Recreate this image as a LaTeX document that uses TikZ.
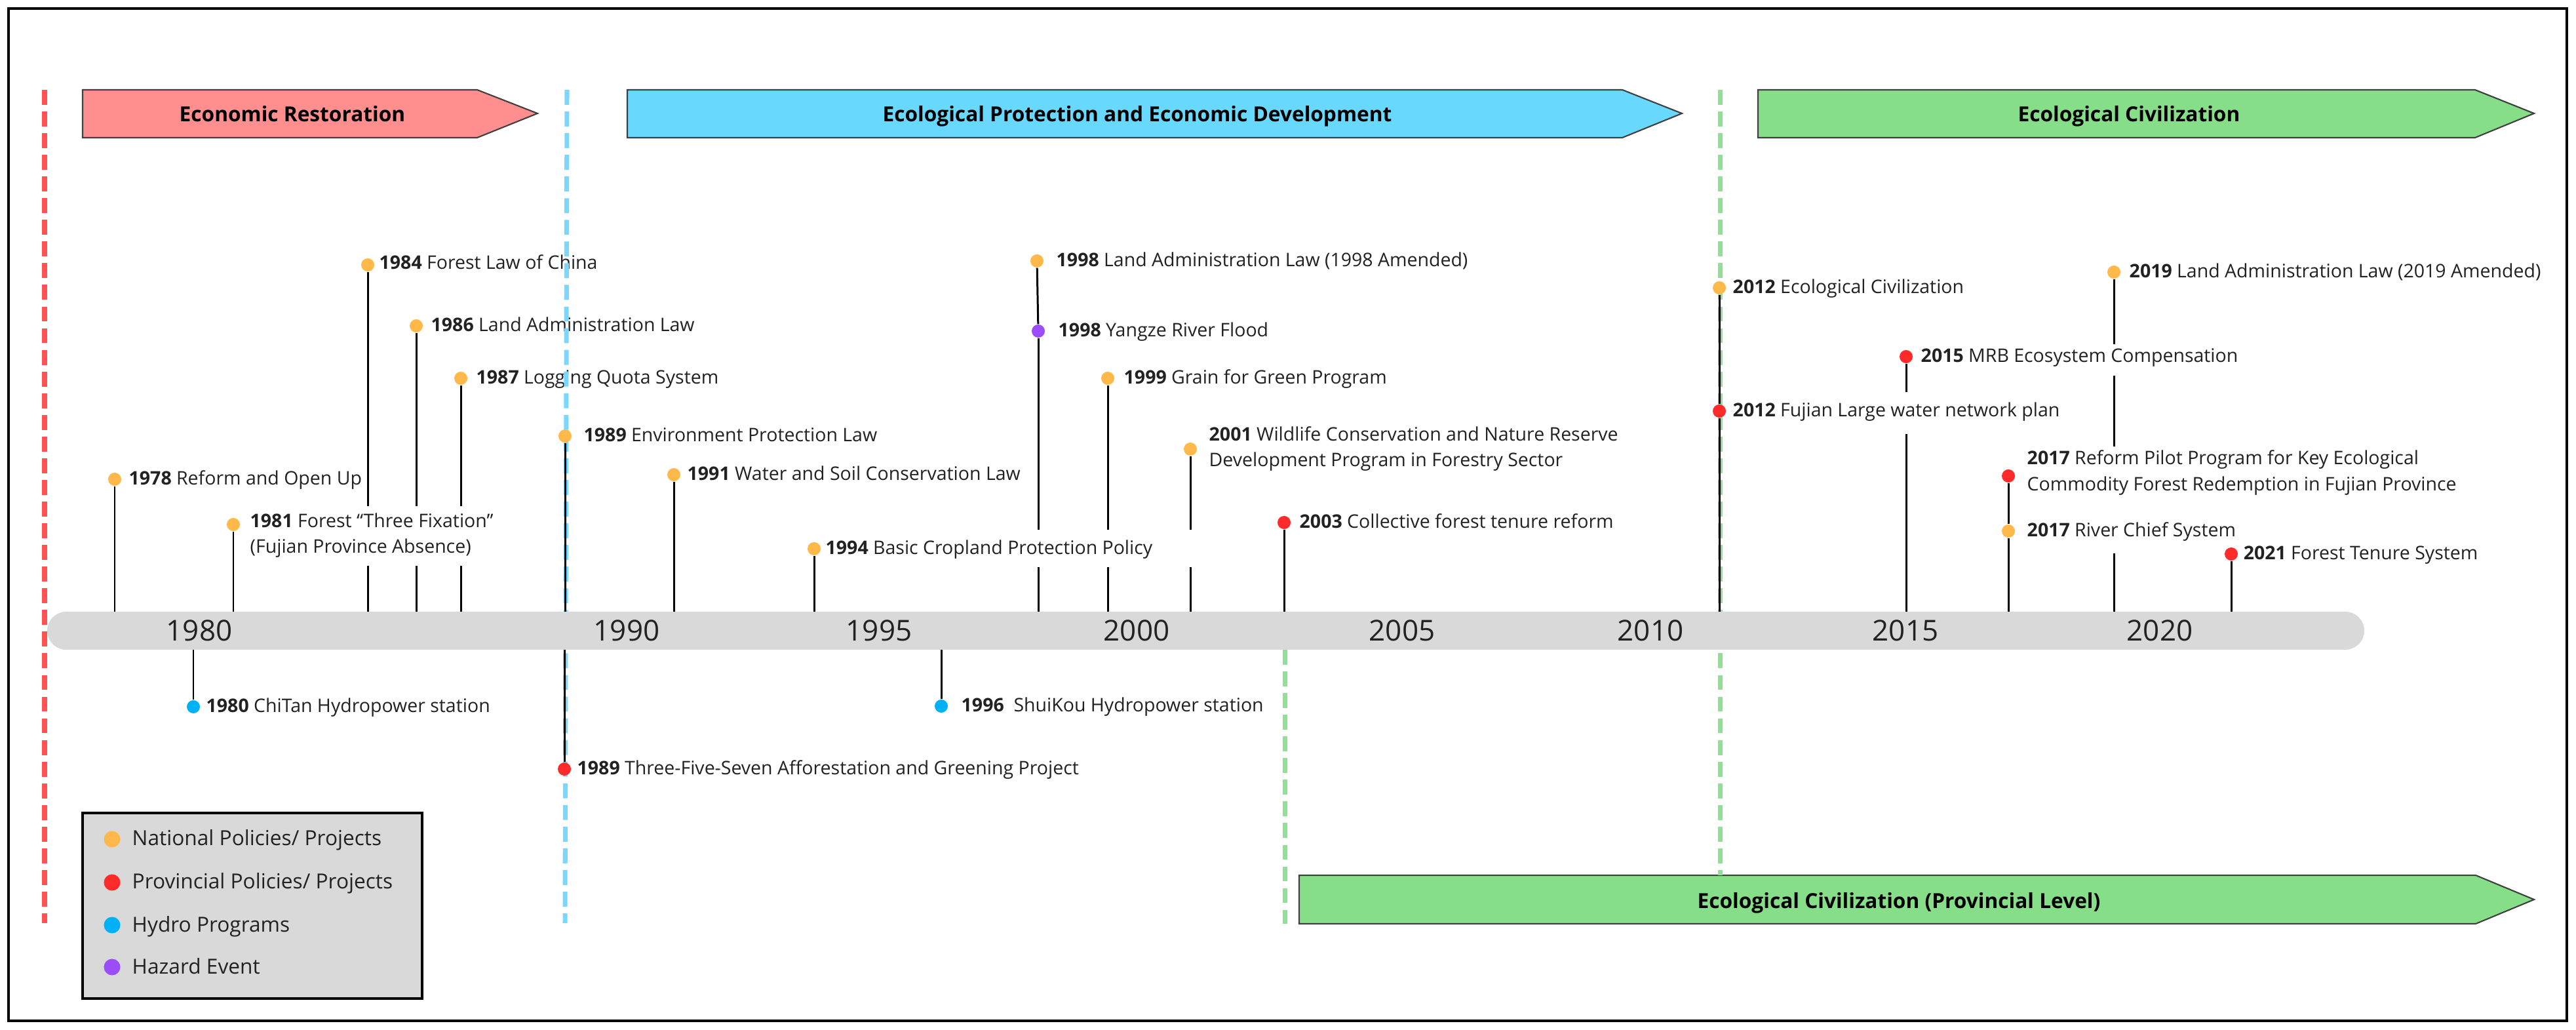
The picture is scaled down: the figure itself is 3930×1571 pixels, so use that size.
\documentclass[tikz,border=0pt]{standalone}
\usepackage{fontspec}
\setmainfont{Open Sans}
\definecolor{cOr}{HTML}{FFB94A}
\definecolor{cRd}{HTML}{FF2A2A}
\definecolor{cBl}{HTML}{00B2F5}
\definecolor{cPu}{HTML}{9B4DFA}
\definecolor{aRed}{HTML}{FF8F8F}
\definecolor{aBlue}{HTML}{69D8FD}
\definecolor{aGreen}{HTML}{87DE88}
\definecolor{dRed}{HTML}{FF5252}
\definecolor{dBlue}{HTML}{7AD8FF}
\definecolor{dGreen}{HTML}{90E095}
\definecolor{barC}{HTML}{D9D9D9}
\definecolor{txt}{HTML}{222222}
\newcommand{\evfont}{\fontsize{8.1pt}{9.7pt}\selectfont}
\newcommand{\lgfont}{\fontsize{9pt}{10.8pt}\selectfont}
\newcommand{\yrfont}{\fontsize{12.5pt}{15pt}\selectfont}
\newcommand{\phfont}{\fontsize{9pt}{10.8pt}\selectfont\bfseries}
\begin{document}
\begin{tikzpicture}[x=0.01cm,y=-0.01cm,
  dotn/.style={circle,fill=#1,inner sep=0pt,minimum size=0.2cm},
  legdot/.style={circle,fill=#1,inner sep=0pt,minimum size=0.25cm},
  ev/.style={anchor=base west,inner sep=0pt,text=txt,font=\evfont},
  lg/.style={anchor=base west,inner sep=0pt,text=txt,font=\lgfont},
  yr/.style={anchor=base,inner sep=0pt,text=txt,font=\yrfont},
  phtext/.style={anchor=base,inner sep=0pt,text=black,font=\phfont},
  stem/.style={line width=0.85pt,black},
  period/.style={draw=black!75,line width=0.6pt,fill=#1},
  sep/.style={line width=2pt,draw=#1,dash pattern=on 6.5pt off 2.9pt}]
\useasboundingbox (0,0) rectangle (3930,1571);
\fill[white] (0,0) rectangle (3930,1571);
\draw[line width=1.1pt] (13,13) rectangle (3916,1557);

% phase arrows
\draw[period=aRed] (126,137) -- (728,137) -- (820,173) -- (728,210) -- (126,210) -- cycle;
\node[phtext] (pEcon) at (446,186) {Economic Restoration};
\draw[period=aBlue] (957,137) -- (2475,137) -- (2566,173) -- (2475,210) -- (957,210) -- cycle;
\node[phtext] (pProt) at (1735,186) {Ecological Protection and Economic Development};
\draw[period=aGreen] (2682,137) -- (3776,137) -- (3866,173) -- (3776,210) -- (2682,210) -- cycle;
\node[phtext] (pCiv) at (3248,186) {Ecological Civilization};
\draw[period=aGreen] (1982,1335) -- (3777,1335) -- (3866,1372) -- (3777,1409) -- (1982,1409) -- cycle;
\node[phtext] (pProv) at (2897,1385) {Ecological Civilization (Provincial Level)};

% event texts
\node[ev] (t1978) at (196,740) {\textbf{1978} Reform and Open Up};
\node[ev] (t1981a) at (381,805) {\textbf{1981} Forest “Three Fixation”};
\node[ev] (t1981b) at (381,844) {(Fujian Province Absence)};
\node[ev] (t1984) at (578,411) {\textbf{1984} Forest Law of China};
\node[ev] (t1986) at (657,506) {\textbf{1986} Land Administration Law};
\node[ev] (t1987) at (726,586) {\textbf{1987} Logging Quota System};
\node[ev] (t1989a) at (890,674) {\textbf{1989} Environment Protection Law};
\node[ev] (t1980) at (314,1087) {\textbf{1980} ChiTan Hydropower station};
\node[ev] (t1989b) at (880,1182) {\textbf{1989} Three-Five-Seven Afforestation and Greening Project};
\node[ev] (t1991) at (1048,733) {\textbf{1991} Water and Soil Conservation Law};
\node[ev] (t1994) at (1259,846) {\textbf{1994} Basic Cropland Protection Policy};
\node[ev] (t1996) at (1466,1086) {\textbf{1996}\ \ ShuiKou Hydropower station};
\node[ev] (t1998a) at (1611,407) {\textbf{1998} Land Administration Law (1998 Amended)};
\node[ev] (t1998b) at (1614,514) {\textbf{1998} Yangze River Flood};
\node[ev] (t1999) at (1714,586) {\textbf{1999} Grain for Green Program};
\node[ev] (t2001a) at (1844,673) {\textbf{2001} Wildlife Conservation and Nature Reserve};
\node[ev] (t2001b) at (1844,712) {Development Program in Forestry Sector};
\node[ev] (t2003) at (1982,806) {\textbf{2003} Collective forest tenure reform};
\node[ev] (t2012a) at (2643,448) {\textbf{2012} Ecological Civilization};
\node[ev] (t2012b) at (2643,636) {\textbf{2012} Fujian Large water network plan};
\node[ev] (t2015) at (2930,553) {\textbf{2015} MRB Ecosystem Compensation};
\node[ev] (t2017a) at (3092,709) {\textbf{2017} Reform Pilot Program for Key Ecological};
\node[ev] (t2017b) at (3092,749) {Commodity Forest Redemption in Fujian Province};
\node[ev] (t2017c) at (3092,819) {\textbf{2017} River Chief System};
\node[ev] (t2019) at (3248,424) {\textbf{2019} Land Administration Law (2019 Amended)};
\node[ev] (t2021) at (3422,854) {\textbf{2021} Forest Tenure System};

% phase separators
\coordinate (sRedT) at (68,137);  \coordinate (sRedB) at (68,1408);
\coordinate (sBluT) at (865,137); \coordinate (sBluB) at (862,1408);
\coordinate (sG1T) at (1960,991); \coordinate (sG1B) at (1960,1409);
\coordinate (sG2T) at (2624,137); \coordinate (sG2B) at (2624,1335);
\draw[sep=dRed] (sRedT) -- (sRedB);
\draw[sep=dBlue] (sBluT) -- (sBluB);
\draw[sep=dGreen] (sG1T) -- (sG1B);
\draw[sep=dGreen] (sG2T) -- (sG2B);

% timeline bar
\fill[barC,rounded corners=0.29cm] (72,933) rectangle (3607,991);
\coordinate (bartop) at (0,933);
\coordinate (barbot) at (0,991);
\node[yr] (y1980) at (304,978) {1980};
\node[yr] (y1990) at (956,978) {1990};
\node[yr] (y1995) at (1341,978) {1995};
\node[yr] (y2000) at (1734,978) {2000};
\node[yr] (y2005) at (2139,978) {2005};
\node[yr] (y2010) at (2518,978) {2010};
\node[yr] (y2015) at (2907,978) {2015};
\node[yr] (y2020) at (3295,978) {2020};

% dots
\node[dotn=cOr] (d1978) at (175,731) {};
\node[dotn=cOr] (d1981) at (356,800) {};
\node[dotn=cOr] (d1984) at (561,404) {};
\node[dotn=cOr] (d1986) at (635,497) {};
\node[dotn=cOr] (d1987) at (703,577) {};
\node[dotn=cOr] (d1989a) at (862,665) {};
\node[dotn=cBl] (d1980) at (295,1078) {};
\node[dotn=cRd] (d1989b) at (861,1173) {};
\node[dotn=cOr] (d1991) at (1028,724) {};
\node[dotn=cOr] (d1994) at (1242,837) {};
\node[dotn=cBl] (d1996) at (1436,1077) {};
\node[dotn=cOr] (d1998a) at (1582,398) {};
\node[dotn=cPu] (d1998b) at (1584,505) {};
\node[dotn=cOr] (d1999) at (1690,577) {};
\node[dotn=cOr] (d2001) at (1816,685) {};
\node[dotn=cRd] (d2003) at (1959,797) {};
\node[dotn=cOr] (d2012a) at (2623,439) {};
\node[dotn=cRd] (d2012b) at (2623,627) {};
\node[dotn=cRd] (d2015) at (2908,544) {};
\node[dotn=cRd] (d2017a) at (3064,726) {};
\node[dotn=cOr] (d2017b) at (3064,810) {};
\node[dotn=cOr] (d2019) at (3225,415) {};
\node[dotn=cRd] (d2021) at (3404,845) {};

% gap coordinates
\coordinate (gA1) at (0,772); \coordinate (gA2) at (0,863);
\coordinate (gB1) at (0,808); \coordinate (gB2) at (0,865);

% stems
\draw[stem] (d1978) -- (d1978 |- bartop);
\draw[stem] (d1981) -- (d1981 |- bartop);
\draw[stem] (d1984) -- (d1984 |- gA1) (d1984 |- gA2) -- (d1984 |- bartop);
\draw[stem] (d1986) -- (d1986 |- gA1) (d1986 |- gA2) -- (d1986 |- bartop);
\draw[stem] (d1987) -- (d1987 |- gA1) (d1987 |- gA2) -- (d1987 |- bartop);
\draw[stem] (d1989a) -- (d1989a |- bartop);
\draw[stem] (d1980 |- barbot) -- (d1980);
\draw[stem] (d1989b |- barbot) -- (d1989b);
\draw[stem] (d1991) -- (d1991 |- bartop);
\draw[stem] (d1994) -- (d1994 |- bartop);
\draw[stem] (d1996 |- barbot) -- (d1996);
\draw[stem] (d1998a) -- (d1998b);
\draw[stem] (d1998b) -- (d1998b |- gB1) (d1998b |- gB2) -- (d1998b |- bartop);
\draw[stem] (d1999) -- (d1999 |- gB1) (d1999 |- gB2) -- (d1999 |- bartop);
\draw[stem] (d2001) -- (d2001 |- gB1) (d2001 |- gB2) -- (d2001 |- bartop);
\draw[stem] (d2003) -- (d2003 |- bartop);
\draw[stem] (d2012a) -- (d2012b);
\draw[stem] (d2012b) -- (d2012b |- bartop);
\coordinate (g15a) at (0,598); \coordinate (g15b) at (0,662);
\draw[stem] (d2015) -- (d2015 |- g15a) (d2015 |- g15b) -- (d2015 |- bartop);
\draw[stem] (d2017a) -- (d2017b);
\draw[stem] (d2017b) -- (d2017b |- bartop);
\coordinate (g19a) at (0,525); \coordinate (g19b) at (0,573);
\coordinate (g19c) at (0,681); \coordinate (g19d) at (0,844);
\draw[stem] (d2019) -- (d2019 |- g19a) (d2019 |- g19b) -- (d2019 |- g19c) (d2019 |- g19d) -- (d2019 |- bartop);
\draw[stem] (d2021) -- (d2021 |- bartop);

% legend
\draw[fill=barC,line width=1.1pt] (126,1240) rectangle (644,1523);
\node[legdot=cOr] (l1) at (171,1280) {};
\node[legdot=cRd] (l2) at (171,1346) {};
\node[legdot=cBl] (l3) at (171,1411) {};
\node[legdot=cPu] (l4) at (171,1475) {};
\node[lg] (lt1) at (201,1290) {National Policies/ Projects};
\node[lg] (lt2) at (201,1356) {Provincial Policies/ Projects};
\node[lg] (lt3) at (201,1421) {Hydro Programs};
\node[lg] (lt4) at (201,1485) {Hazard Event};
\end{tikzpicture}
\end{document}
